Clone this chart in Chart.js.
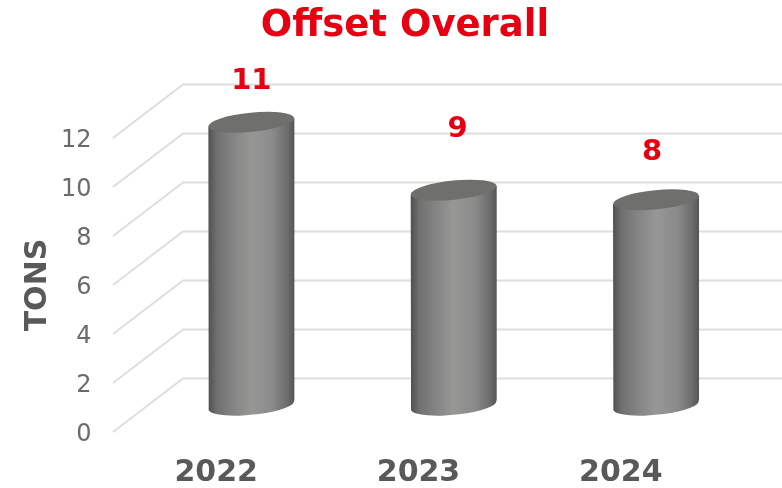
<!DOCTYPE html>
<html>
<head>
<meta charset="utf-8">
<title>Offset Overall</title>
<script src="https://cdn.jsdelivr.net/npm/chart.js@4"></script>
<style>
  html, body { margin: 0; padding: 0; background: #fff; overflow: hidden; }
  canvas { display: block; }
</style>
</head>
<body>
<canvas id="chart" width="782" height="488"></canvas>
<script>
const years = ['2022', '2023', '2024'];
const tons = [11.55, 8.78, 8.39];
const tonLabels = ['11', '9', '8'];
// hand placed labels in the original, offset from the top of each cylinder
const labelNudgeX = [0, 4, -4];
const labelNudgeY = [-41, -61, -47.5];

const RED = '#e60012';
const GRID = '#dedede';
const DEPTH_X = 68;
const DEPTH_Y = -53.5;
const BAR_SHIFT = 1.2;
const FONT = '"DejaVu Sans", Verdana, sans-serif';

// the walls of the fake 3d box: diagonal on the floor side, then flat along the back
const wallGrid = {
    id: 'wallGrid',
    beforeDatasetsDraw(chart) {
        const { ctx, chartArea, scales } = chart;
        ctx.save();
        ctx.strokeStyle = GRID;
        ctx.lineWidth = 2;
        scales.y.ticks.forEach((tick, i) => {
            const y = scales.y.getPixelForTick(i);
            ctx.beginPath();
            ctx.moveTo(chartArea.left - 2, y);
            ctx.lineTo(chartArea.left + DEPTH_X, y + DEPTH_Y);
            ctx.lineTo(chart.width, y + DEPTH_Y);
            ctx.stroke();
        });
        ctx.restore();
    }
};

const cylinders = {
    id: 'cylinders',
    afterDatasetsDraw(chart) {
        const { ctx } = chart;
        const meta = chart.getDatasetMeta(0);
        meta.data.forEach((bar, i) => {
            const cx = bar.x + DEPTH_X / 2 + BAR_SHIFT;
            const top = bar.y + DEPTH_Y / 2;
            const bottom = bar.base + DEPTH_Y / 2;
            const rx = bar.width / 2;
            const ry = 9.6;
            const tilt = rx * 0.1;

            const body = ctx.createLinearGradient(cx - rx, 0, cx + rx, 0);
            body.addColorStop(0, '#505050');
            body.addColorStop(0.1, '#707070');
            body.addColorStop(0.3, '#858585');
            body.addColorStop(0.5, '#979796');
            body.addColorStop(0.75, '#8a8a8a');
            body.addColorStop(0.92, '#6c6c6c');
            body.addColorStop(1, '#555555');

            ctx.save();
            ctx.fillStyle = body;
            ctx.beginPath();
            ctx.moveTo(cx - rx, top + tilt);
            ctx.lineTo(cx + rx, top - tilt);
            ctx.lineTo(cx + rx, bottom - tilt);
            ctx.ellipse(cx, bottom, rx, ry, -0.1, -0.1, Math.PI + 0.1);
            ctx.closePath();
            ctx.fill();

            ctx.fillStyle = '#6f6f6d';
            ctx.beginPath();
            ctx.ellipse(cx, top, rx, ry, -0.1, 0, Math.PI * 2);
            ctx.fill();
            ctx.restore();

            ctx.save();
            ctx.fillStyle = RED;
            ctx.font = 'bold 29px ' + FONT;
            ctx.textAlign = 'center';
            ctx.textBaseline = 'middle';
            ctx.fillText(tonLabels[i], cx + labelNudgeX[i], top + labelNudgeY[i]);
            ctx.restore();
        });
    }
};

// the title sits to the right of the canvas centre
const shiftTitle = {
    id: 'shiftTitle',
    afterLayout(chart) {
        chart.titleBlock.left += 44;
        chart.titleBlock.right += 44;
    }
};

new Chart(document.getElementById('chart'), {
    type: 'bar',
    data: {
        labels: years,
        datasets: [{
            data: tons,
            backgroundColor: 'transparent',
            borderWidth: 0,
            categoryPercentage: 1,
            barPercentage: 0.425
        }]
    },
    options: {
        responsive: false,
        animation: false,
        layout: { padding: { right: 60 } },
        plugins: {
            legend: { display: false },
            tooltip: { enabled: false },
            title: {
                display: true,
                text: 'Offset Overall',
                color: RED,
                font: { family: FONT, size: 37, weight: 'bold' },
                padding: { top: 4, bottom: 89.6 }
            }
        },
        scales: {
            x: {
                grid: { display: false },
                border: { display: false },
                afterFit: (scale) => { scale.height = 56; },
                ticks: {
                    color: '#595959',
                    padding: 15,
                    font: { family: FONT, size: 30, weight: 'bold' }
                }
            },
            y: {
                min: 0,
                max: 12,
                grid: { display: false },
                border: { display: false },
                afterFit: (scale) => { scale.width = 115; },
                ticks: {
                    stepSize: 2,
                    color: '#6b6b6b',
                    padding: 15.5,
                    labelOffset: 3,
                    font: { family: FONT, size: 24 }
                },
                title: {
                    display: true,
                    text: 'TONS',
                    color: '#595959',
                    padding: { top: 20, bottom: 0 },
                    font: { family: FONT, size: 30, weight: 'bold' }
                }
            }
        }
    },
    plugins: [wallGrid, cylinders, shiftTitle]
});
</script>
</body>
</html>
